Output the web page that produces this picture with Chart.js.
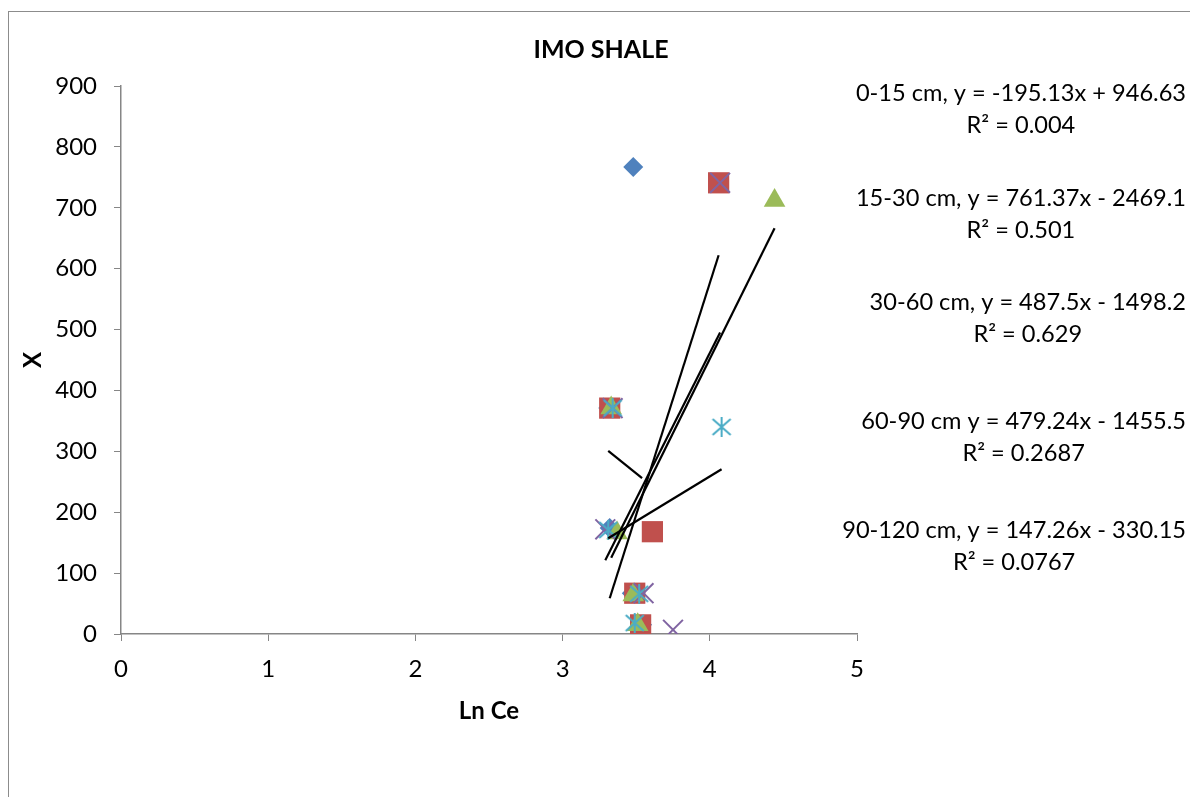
<!DOCTYPE html>
<html>
<head>
<meta charset="utf-8">
<script src="https://cdn.jsdelivr.net/npm/chart.js@4.4.1/dist/chart.umd.min.js"></script>
<style>
html, body { margin: 0; padding: 0; background: #fff; overflow: hidden; }
#frame { position: absolute; left: 8px; top: 11px; width: 1300px; height: 900px; border: 1.5px solid #8c8c8c; }
#c { position: absolute; left: 0; top: 0; }
</style>
</head>
<body>
<div id="frame"></div>
<canvas id="c" width="1190" height="797"></canvas>
<script>
// depth series: Ln Ce (x) and X (y)
var seriesNames = ['0-15 cm', '15-30 cm', '30-60 cm', '60-90 cm', '90-120 cm'];
var lnCe_0_15 = [3.48, 3.31, 3.32, 3.47, 3.54];
var x_0_15 = [767, 371, 174, 67, 15];
var lnCe_15_30 = [4.06, 3.32, 3.61, 3.49, 3.53];
var x_15_30 = [741, 371, 168, 67, 15];
var lnCe_30_60 = [4.44, 3.33, 3.37, 3.48, 3.51];
var x_30_60 = [712, 371, 166, 64, 15];
var lnCe_60_90 = [4.07, 3.34, 3.29, 3.55, 3.75];
var x_60_90 = [741, 371, 172, 67, 7];
var lnCe_90_120 = [4.08, 3.34, 3.31, 3.52, 3.49];
var x_90_120 = [340, 371, 171, 66, 18];

// linear trendlines as printed on the chart
var slopes = [-195.13, 761.37, 487.5, 479.24, 147.26];
var intercepts = [946.63, -2469.1, -1498.2, -1455.5, -330.15];
var eqLabels = ['0-15 cm, y = -195.13x + 946.63', '15-30 cm, y = 761.37x - 2469.1',
    '30-60 cm, y = 487.5x - 1498.2', '60-90 cm y = 479.24x - 1455.5', '90-120 cm, y = 147.26x - 330.15'];
var r2Labels = ['0.004', '0.501', '0.629', '0.2687', '0.0767'];

var xTicks = [0, 1, 2, 3, 4, 5];
var yTicks = [0, 100, 200, 300, 400, 500, 600, 700, 800, 900];

var allX = [lnCe_0_15, lnCe_15_30, lnCe_30_60, lnCe_60_90, lnCe_90_120];
var allY = [x_0_15, x_15_30, x_30_60, x_60_90, x_90_120];

var FONT = 'Lato';
Chart.defaults.font.family = FONT;
Chart.defaults.color = '#000';

function asterisk(color) {
    var c = document.createElement('canvas');
    c.width = 22; c.height = 22;
    var g = c.getContext('2d');
    g.strokeStyle = color;
    g.lineWidth = 2;
    g.beginPath();
    g.moveTo(11, 1); g.lineTo(11, 21);
    g.moveTo(2, 3); g.lineTo(20, 19);
    g.moveTo(20, 3); g.lineTo(2, 19);
    g.stroke();
    return c;
}

var styles = [
    { pointStyle: 'rectRot', pointRadius: 10, backgroundColor: '#4F81BD', borderColor: '#4F81BD', borderWidth: 0 },
    { pointStyle: 'rect', pointRadius: 15, backgroundColor: '#C0504D', borderColor: '#C0504D', borderWidth: 0 },
    { pointStyle: 'triangle', pointRadius: 12.5, backgroundColor: '#9BBB59', borderColor: '#9BBB59', borderWidth: 0 },
    { pointStyle: 'crossRot', pointRadius: 14, backgroundColor: '#8064A2', borderColor: '#8064A2', borderWidth: 2 },
    { pointStyle: asterisk('#4BACC6'), pointRadius: 11, backgroundColor: '#4BACC6', borderColor: '#4BACC6', borderWidth: 0 }
];

var datasets = [];
allX.forEach(function(xs, i) {
    var pts = xs.map(function(v, j) { return { x: v, y: allY[i][j] }; });
    var d = { label: seriesNames[i], data: pts, order: 10 - i, pointHoverRadius: styles[i].pointRadius };
    Object.keys(styles[i]).forEach(function(k) { d[k] = styles[i][k]; });
    datasets.push(d);
});
// trendlines over each series' x range
allX.forEach(function(xs, i) {
    var lo = Math.min.apply(null, xs), hi = Math.max.apply(null, xs);
    datasets.push({
        label: seriesNames[i] + ' trend',
        type: 'line',
        data: [{ x: lo, y: slopes[i] * lo + intercepts[i] }, { x: hi, y: slopes[i] * hi + intercepts[i] }],
        borderColor: '#000',
        borderWidth: 2.2,
        pointRadius: 0,
        fill: false,
        order: 0
    });
});

var labelY = [93, 198, 302, 421, 530];

var textPlugin = {
    id: 'texts',
    afterDraw: function(chart) {
        var ctx = chart.ctx;
        ctx.save();
        ctx.fillStyle = '#000';
        ctx.textBaseline = 'middle';
        ctx.textAlign = 'center';
        ctx.font = 'bold 25px ' + FONT;
        ctx.fillText('IMO SHALE', 601, 50);
        ctx.font = '23.6px ' + FONT;
        eqLabels.forEach(function(t, i) {
            var w = ctx.measureText(t).width;
            ctx.textAlign = 'right';
            ctx.fillText(t, 1186, labelY[i]);
            ctx.textAlign = 'center';
            ctx.fillText('R\u00b2 = ' + r2Labels[i], 1186 - w / 2, labelY[i] + 32);
        });
        ctx.restore();
    }
};

var axisGrey = '#868686';

new Chart(document.getElementById('c').getContext('2d'), {
    type: 'scatter',
    data: { datasets: datasets },
    options: {
        responsive: false,
        animation: false,
        layout: { padding: { left: 0, top: 86, right: 333, bottom: 0 } },
        plugins: { legend: { display: false }, tooltip: { enabled: false } },
        scales: {
            x: {
                type: 'linear', min: 0, max: 5,
                afterBuildTicks: function(s) { s.ticks = xTicks.map(function(v) { return { value: v }; }); },
                afterFit: function(s) { s.height = 163; },
                ticks: { font: { size: 24 }, padding: 14, color: '#000' },
                grid: { drawOnChartArea: false, drawTicks: true, tickLength: 7, color: axisGrey },
                border: { display: true, color: axisGrey, width: 1.5 },
                title: { display: true, text: 'Ln Ce', font: { size: 24, weight: 'bold' }, padding: { top: 0, bottom: 71 } }
            },
            y: {
                type: 'linear', min: 0, max: 900,
                afterBuildTicks: function(s) { s.ticks = yTicks.map(function(v) { return { value: v }; }); },
                afterFit: function(s) { s.width = 121; },
                ticks: { font: { size: 24 }, padding: 17, color: '#000' },
                grid: { drawOnChartArea: false, drawTicks: true, tickLength: 7, color: axisGrey },
                border: { display: true, color: axisGrey, width: 1.5 },
                title: { display: true, text: 'X', font: { size: 24, weight: 'bold' }, padding: { top: 19, bottom: 0 } }
            }
        }
    },
    plugins: [textPlugin]
});
</script>
</body>
</html>
